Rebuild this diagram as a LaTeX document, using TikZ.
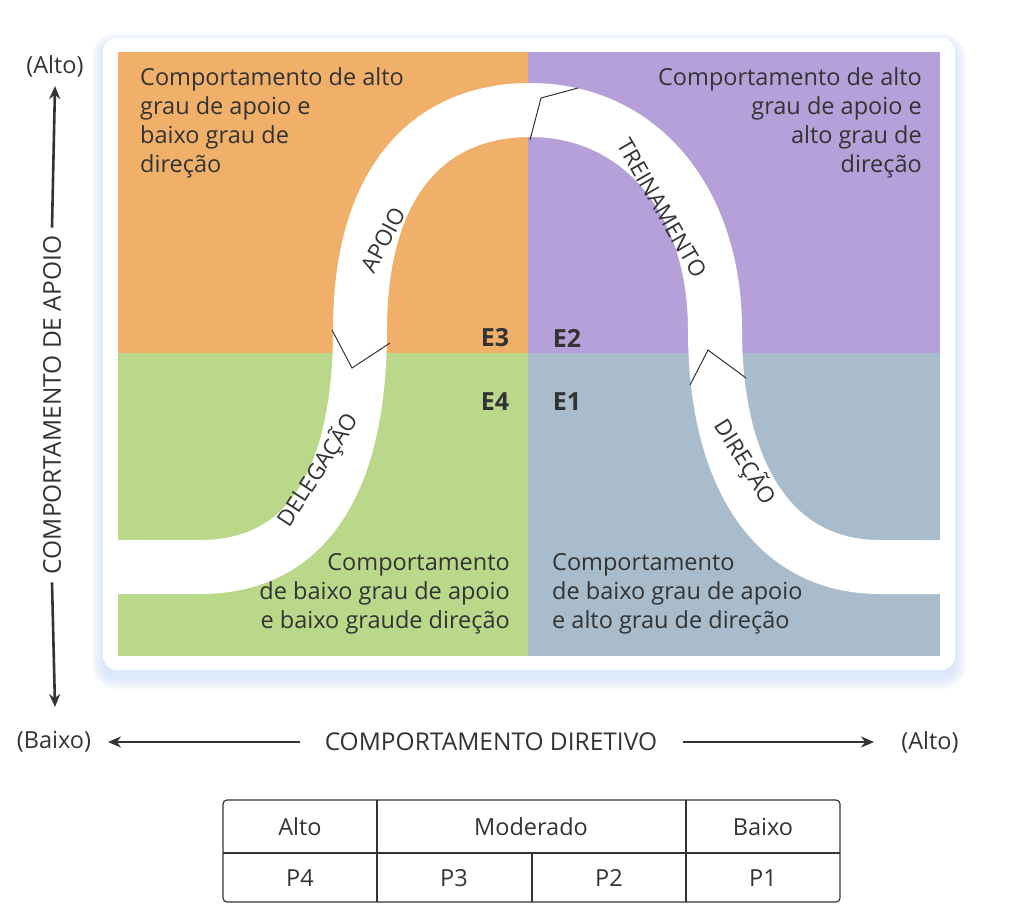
\documentclass[tikz,border=0pt]{standalone}
\usepackage{fontspec}
\setmainfont{Open Sans}
\usetikzlibrary{arrows.meta}
\definecolor{qor}{HTML}{F0B06A}
\definecolor{qpu}{HTML}{B6A0D9}
\definecolor{qgr}{HTML}{B9D88A}
\definecolor{qbl}{HTML}{A8BCCB}
\definecolor{ink}{HTML}{333333}
\definecolor{glow}{HTML}{9FBDEB}
\begin{document}
\begin{tikzpicture}[x=1pt,y=-1pt,
  txt/.style={font=\fontsize{23.5}{29}\selectfont,text=ink,inner sep=0},
  big/.style={font=\fontsize{24.5}{29}\selectfont,text=ink,inner sep=0},
  lab/.style={font=\fontsize{22.5}{24}\selectfont,text=ink,inner sep=0},
  ee/.style={font=\fontsize{25}{28}\selectfont\bfseries,text=ink,inner sep=0},
  ax/.style={-{Stealth[length=13pt,width=11pt]},line width=2.6pt,ink},
  note/.style={line width=1pt,ink}]
\useasboundingbox (0,0) rectangle (1022,919);
\foreach \i in {1,...,12}{
  \fill[glow,opacity=0.035,rounded corners=14pt+\i pt] (103-\i,44-\i) rectangle (955+\i,678+\i);
}
\fill[white,rounded corners=14pt] (103,38) rectangle (955,670);
\fill[qor] (118,52) rectangle (528,353);
\fill[qpu] (528,52) rectangle (940,353);
\fill[qgr] (118,353) rectangle (528,656);
\fill[qbl] (528,353) rectangle (940,656);
\draw[white,line width=54pt] (112,567) -- (200,567) .. controls (320,567) and (360,460) .. (360,330) .. controls (360,180) and (430,110) .. (530,110) .. controls (640,110) and (715,200) .. (715,330) .. controls (715,470) and (770,567) .. (880,567) -- (940,567);
\fill[white] (940,539) rectangle (955,595);
\fill[white] (103,539) rectangle (118,595);
\draw[note] (530,140) -- (541,98) -- (578,88);
\draw[note] (332,330) -- (352,368) -- (390,343);
\draw[note] (690,385) -- (708,350) -- (746,378);
\node[lab,rotate=62] (apoio) at (383,240) {APOIO};
\node[lab,rotate=-60] (trein) at (662,208) {TREINAMENTO};
\node[lab,rotate=57] (deleg) at (318,470) {DELEGAÇÃO};
\node[lab,rotate=-58] (dir) at (745,462) {DIREÇÃO};
\node[ee] (e3) at (495,338) {E3};
\node[ee] (e2) at (567,338) {E2};
\node[ee] (e4) at (495,402) {E4};
\node[ee] (e1) at (567,402) {E1};
\node[txt,align=left,anchor=north west] (t1) at (140,67) {Comportamento de alto\\grau de apoio e\\baixo grau de\\direção};
\node[txt,align=right,anchor=north east] (t2) at (922,67) {Comportamento de alto\\grau de apoio e\\alto grau de\\direção};
\node[txt,align=right,anchor=north east] (t3) at (510,553) {Comportamento\\de baixo grau de apoio\\e baixo graude direção};
\node[txt,align=left,anchor=north west] (t4) at (552,553) {Comportamento\\de baixo grau de apoio\\e alto grau de direção};
\node[txt] (alto1) at (55,66) {(Alto)};
\node[big,rotate=90] (cap) at (52,405) {COMPORTAMENTO DE APOIO};
\coordinate (va) at (55,86);
\coordinate (vb) at (55,707);
\draw[ax] (cap.east) ++(0,-8) -- (va);
\draw[ax] (cap.west) ++(0,8) -- (vb);
\node[txt] (baixo) at (54,742) {(Baixo)};
\node[big] (cd) at (491,742) {COMPORTAMENTO DIRETIVO};
\node[txt] (alto2) at (930,742) {(Alto)};
\coordinate (ha) at (108,742);
\coordinate (hb) at (874,742);
\draw[ax] (300,742) -- (ha);
\draw[ax] (683,742) -- (hb);
\draw[line width=1.2pt,ink,rounded corners=4pt] (223,800) rectangle (840,902);
\draw[line width=1.2pt,ink] (223,853) -- (840,853) (377,800) -- (377,902) (686,800) -- (686,902) (532,853) -- (532,902);
\node[txt] (c1) at (300,827) {Alto};
\node[txt] (c2) at (531,827) {Moderado};
\node[txt] (c3) at (763,827) {Baixo};
\node[txt] (p4) at (300,878) {P4};
\node[txt] (p3) at (454,878) {P3};
\node[txt] (p2) at (609,878) {P2};
\node[txt] (p1) at (763,878) {P1};
\end{tikzpicture}
\end{document}
